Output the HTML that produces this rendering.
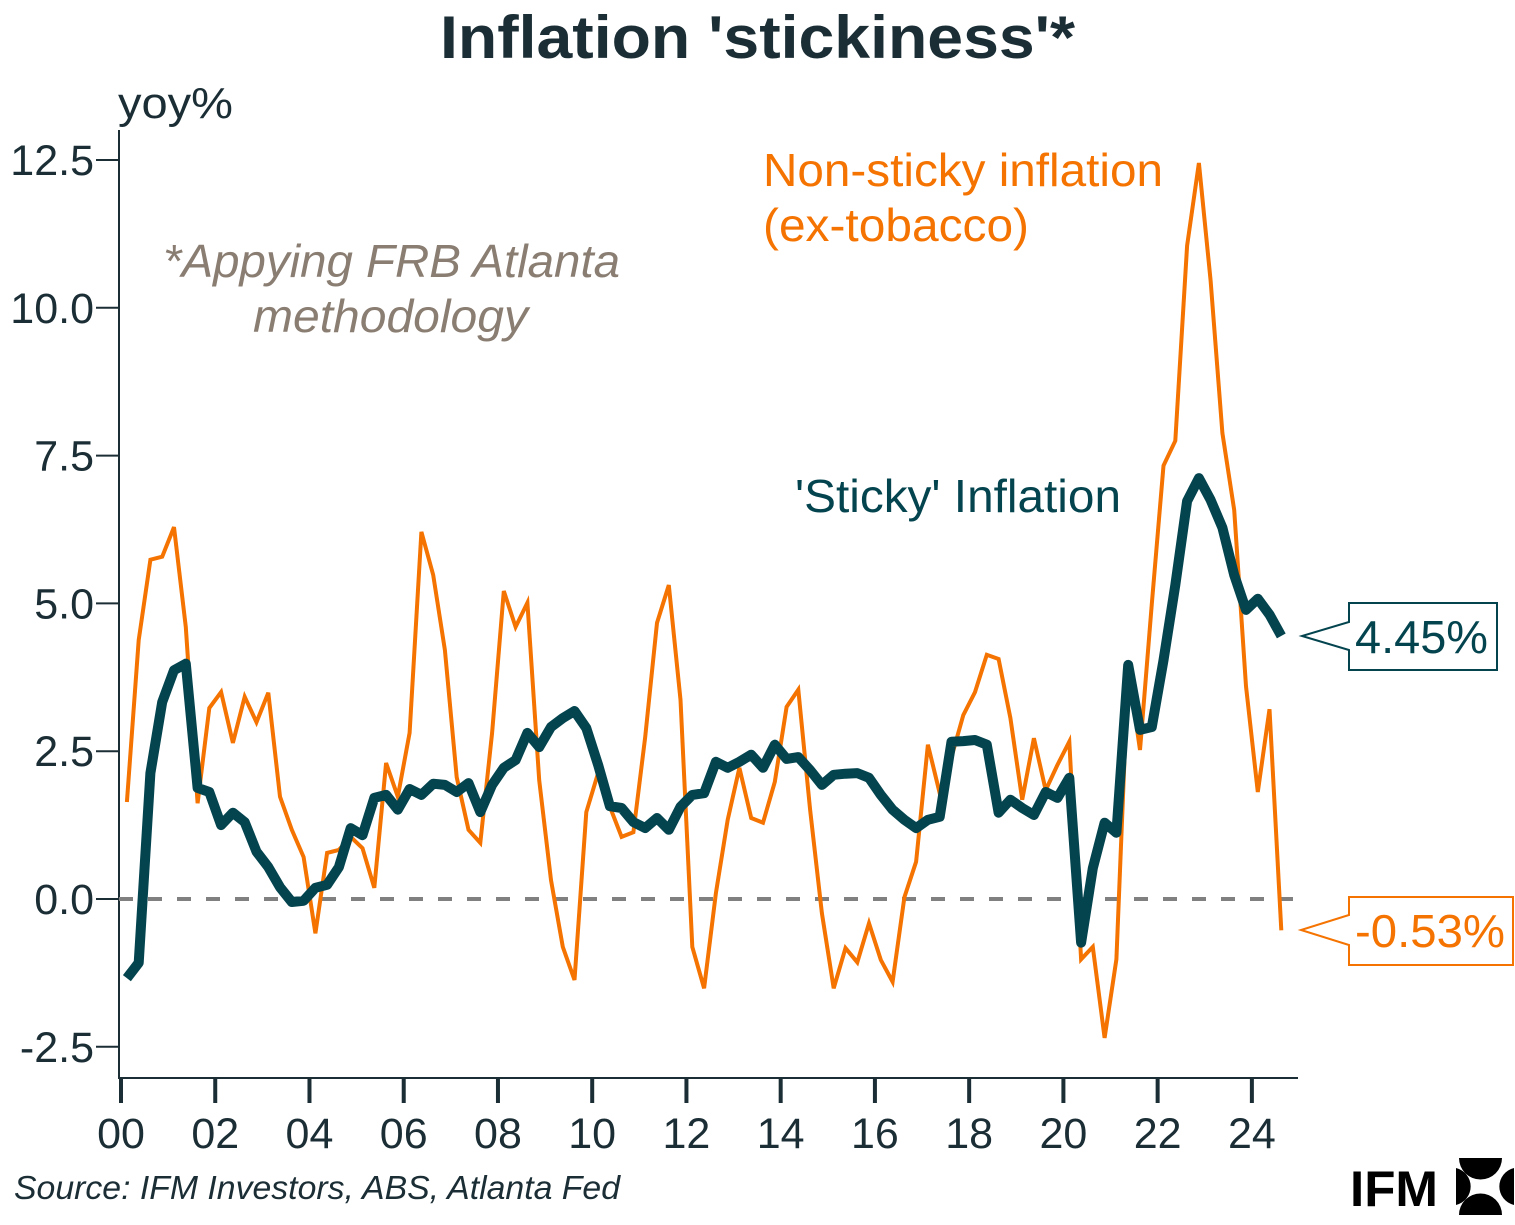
<!DOCTYPE html>
<html><head><meta charset="utf-8"><style>
html,body{margin:0;padding:0;background:#fff;}
svg{display:block;font-family:"Liberation Sans",sans-serif;}
</style></head><body>
<svg id="chart" width="1515" height="1225" viewBox="0 0 1515 1225">
<text x="440" y="58" textLength="635" lengthAdjust="spacingAndGlyphs" font-size="60" font-weight="bold" fill="#1b2e35">Inflation 'stickiness'*</text>
<text x="118" y="118" textLength="115" lengthAdjust="spacingAndGlyphs" font-size="44" fill="#1b2e35">yoy%</text>
<text x="163" y="277" textLength="457" lengthAdjust="spacingAndGlyphs" font-size="46" font-style="italic" fill="#8a7d72">*Appying FRB Atlanta</text>
<text x="253" y="332" textLength="275" lengthAdjust="spacingAndGlyphs" font-size="46" font-style="italic" fill="#8a7d72">methodology</text>
<text x="763" y="186" textLength="400" lengthAdjust="spacingAndGlyphs" font-size="46" fill="#f57300">Non-sticky inflation</text>
<text x="763" y="241" textLength="266" lengthAdjust="spacingAndGlyphs" font-size="46" fill="#f57300">(ex-tobacco)</text>
<text x="795" y="512" textLength="326" lengthAdjust="spacingAndGlyphs" font-size="46" fill="#04444f">'Sticky' Inflation</text>
<g id="axes"></g>
<g id="series"></g>
<g>
<path d="M1349 603 H1497 V670 H1349 V650 L1302 636 L1349 622 Z" fill="#fff" stroke="#04444f" stroke-width="2"/>
<text x="1355" y="653" textLength="133" lengthAdjust="spacingAndGlyphs" font-size="46" fill="#04444f">4.45%</text>
</g>
<g>
<path d="M1349 897 H1513 V965 H1349 V945 L1301 930 L1349 915 Z" fill="#fff" stroke="#f57300" stroke-width="2"/>
<text x="1355" y="947" textLength="150" lengthAdjust="spacingAndGlyphs" font-size="46" fill="#f57300">-0.53%</text>
</g>
<text x="14" y="1199" textLength="606" lengthAdjust="spacingAndGlyphs" font-size="33" font-style="italic" fill="#1b2e35">Source: IFM Investors, ABS, Atlanta Fed</text>
<g>
<text x="1350" y="1206" textLength="88" lengthAdjust="spacingAndGlyphs" font-size="50" font-weight="bold" fill="#000">IFM</text>
<path d="M1459 1158 H1502 A21 21 0 0 1 1459 1158 Z M1459 1215 H1502 A21 21 0 0 0 1459 1215 Z M1456 1168 V1205 A19 19 0 0 0 1456 1168 Z M1514 1168 V1205 A19 19 0 0 1 1514 1168 Z" fill="#000"/>
</g>
</svg>
<script>
const stickyValues = [-1.34,-1.08,2.13,3.33,3.87,3.98,1.88,1.81,1.25,1.46,1.30,0.80,0.54,0.20,-0.05,-0.03,0.19,0.24,0.54,1.20,1.08,1.71,1.76,1.51,1.86,1.76,1.95,1.93,1.81,1.96,1.47,1.93,2.22,2.35,2.81,2.57,2.91,3.06,3.18,2.89,2.27,1.57,1.54,1.30,1.20,1.37,1.17,1.56,1.76,1.79,2.32,2.22,2.32,2.44,2.22,2.61,2.37,2.40,2.18,1.93,2.10,2.12,2.13,2.05,1.76,1.51,1.34,1.20,1.34,1.39,2.66,2.67,2.69,2.61,1.46,1.68,1.54,1.42,1.81,1.71,2.05,-0.74,0.52,1.29,1.12,3.96,2.86,2.91,4.04,5.31,6.73,7.12,6.75,6.28,5.48,4.89,5.08,4.81,4.45];
const nonStickyValues = [1.64,4.38,5.74,5.79,6.29,4.60,1.62,3.23,3.50,2.64,3.42,2.99,3.49,1.73,1.17,0.71,-0.58,0.78,0.83,1.05,0.86,0.19,2.30,1.73,2.81,6.21,5.48,4.21,2.06,1.17,0.95,2.81,5.21,4.60,5.01,2.01,0.32,-0.81,-1.37,1.47,2.13,1.56,1.05,1.13,2.74,4.67,5.31,3.37,-0.81,-1.51,0.10,1.34,2.22,1.37,1.29,1.98,3.25,3.54,1.51,-0.24,-1.51,-0.83,-1.07,-0.41,-1.03,-1.40,0.03,0.63,2.61,1.79,2.40,3.11,3.50,4.13,4.06,3.06,1.68,2.72,1.84,2.27,2.66,-1.02,-0.81,-2.35,-1.02,3.91,2.52,4.99,7.33,7.75,11.05,12.45,10.46,7.88,6.58,3.60,1.81,3.21,-0.53];
const startYear = 2000.125;
const yTicks = [12.5,10.0,7.5,5.0,2.5,0.0,-2.5];
const yTickLabels = ["12.5","10.0","7.5","5.0","2.5","0.0","-2.5"];
const xTickYears = [2000,2002,2004,2006,2008,2010,2012,2014,2016,2018,2020,2022,2024];
const xTickLabels = ["00","02","04","06","08","10","12","14","16","18","20","22","24"];

const NS='http://www.w3.org/2000/svg';
function xs(t){return 121 + (t-2000)*47.12;}
function ys(v){return 899 - v*59.12;}
function mk(tag,attrs,parent){const e=document.createElementNS(NS,tag);for(const k in attrs)e.setAttribute(k,attrs[k]);parent.appendChild(e);return e;}
const axes=document.getElementById('axes');
const series=document.getElementById('series');
const c='#1b2e35';
const yAxis=mk('line',{x1:119,y1:130,x2:119,y2:1079,stroke:c,'stroke-width':2},axes);


const xAxis=mk('line',{x1:118,y1:1078,x2:1298,y2:1078,stroke:c,'stroke-width':2},axes);


yTicks.forEach((v,i)=>{
  const y=ys(v);
  const tk=mk('line',{x1:96,y1:y,x2:119,y2:y,stroke:c,'stroke-width':2},axes);
  
  
  const t=mk('text',{x:94,y:y+15,'text-anchor':'end','font-size':43,fill:c},axes);
  t.textContent=yTickLabels[i];
  
  
});
xTickYears.forEach((yr,i)=>{
  const x=xs(yr);
  const tk=mk('line',{x1:x,y1:1078,x2:x,y2:1103,stroke:c,'stroke-width':4},axes);
  
  
  const t=mk('text',{x:x,y:1148,'text-anchor':'middle','font-size':43,fill:c},axes);
  t.textContent=xTickLabels[i];
  
  
});
const zl=mk('line',{x1:119,y1:ys(0),x2:1298,y2:ys(0),stroke:'#808080','stroke-width':4,'stroke-dasharray':'14 15'},series);


function pts(arr){return arr.map((v,i)=>xs(startYear+i*0.25).toFixed(1)+','+ys(v).toFixed(1)).join(' ');}
const ln=mk('polyline',{points:pts(nonStickyValues),fill:'none',stroke:'#f57300','stroke-width':4,'stroke-linejoin':'miter'},series);


const ls=mk('polyline',{points:pts(stickyValues),fill:'none',stroke:'#04444f','stroke-width':10,'stroke-linejoin':'round'},series);


</script>
</body></html>
